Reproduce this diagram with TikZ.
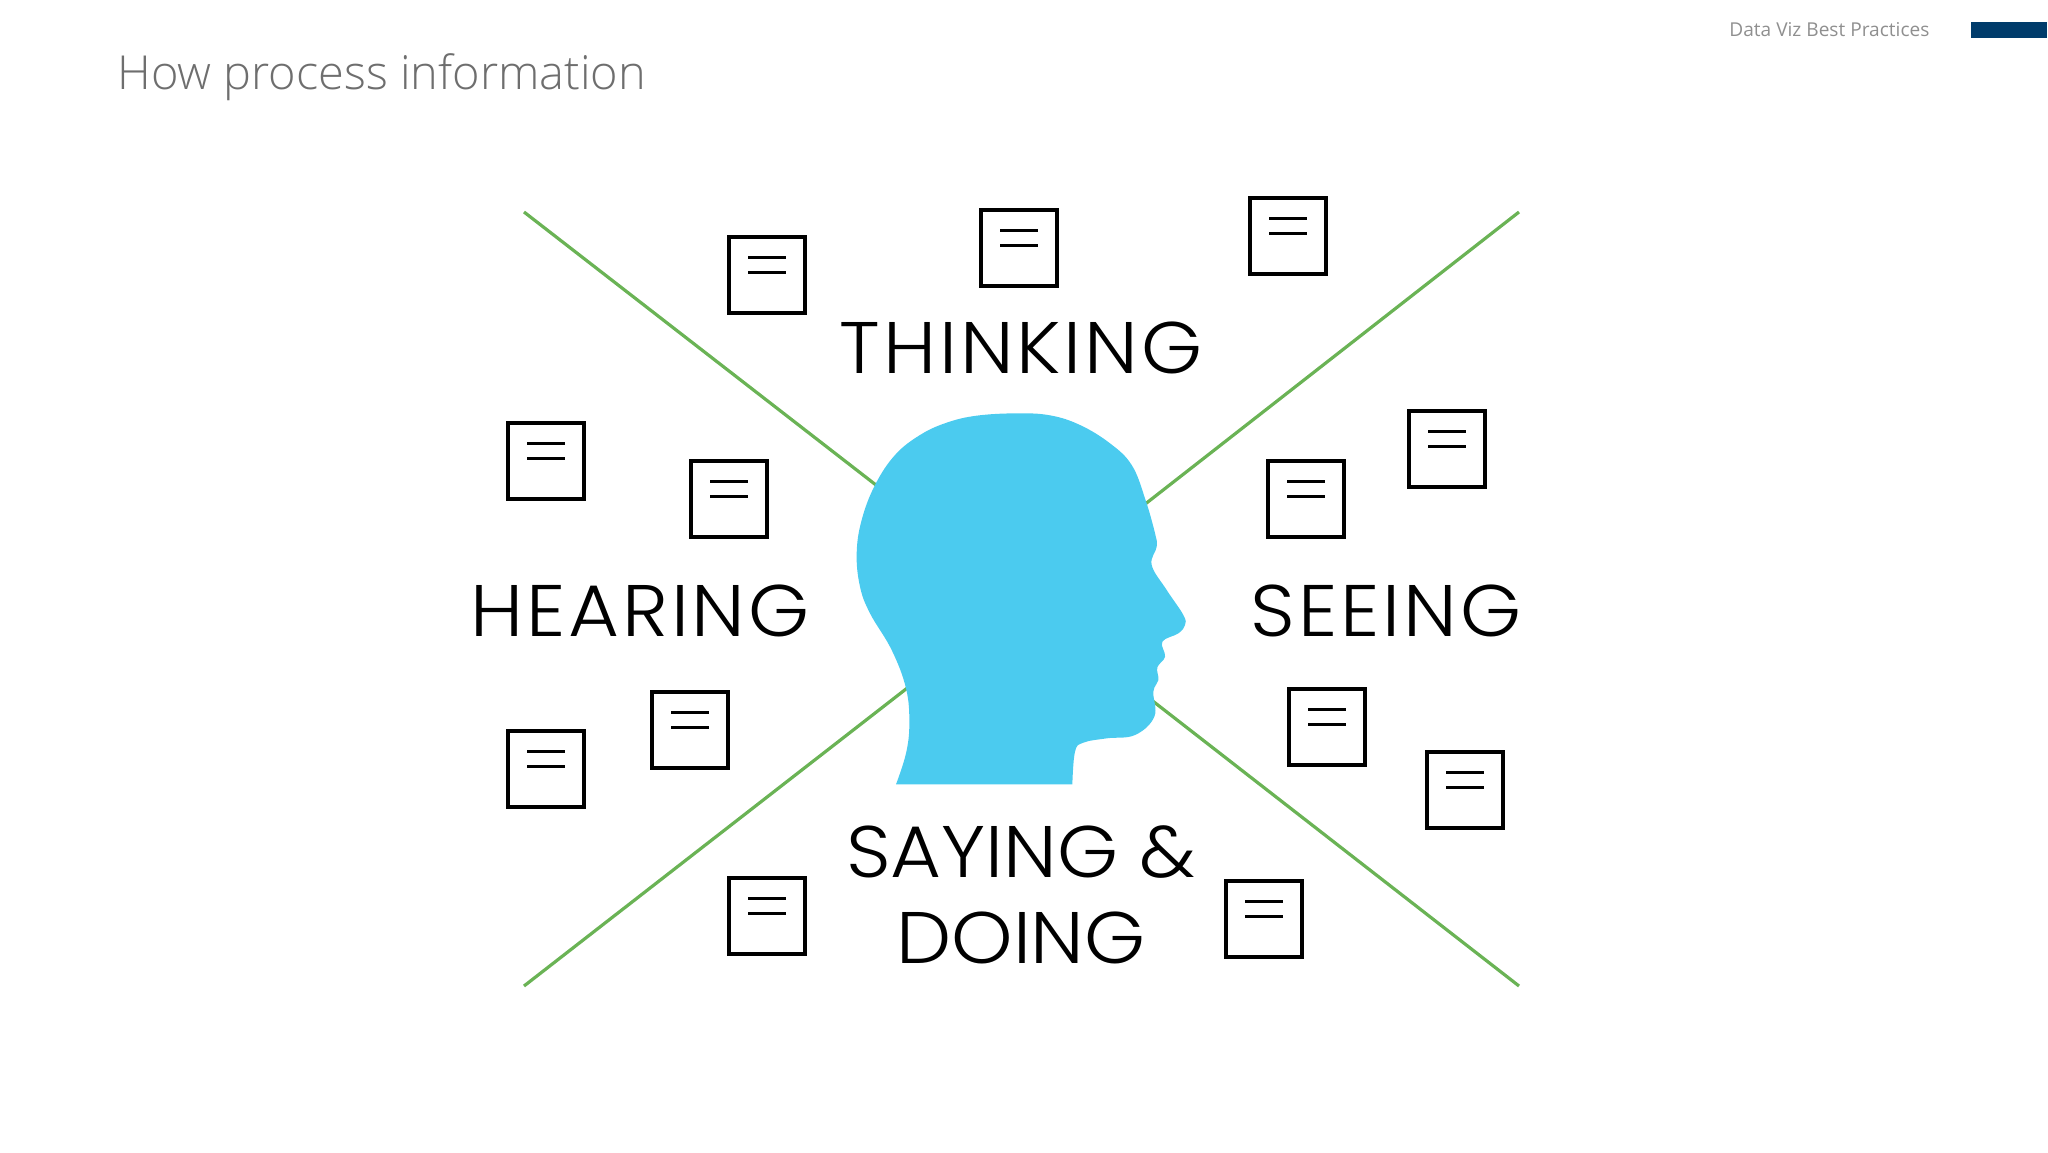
\documentclass[tikz,border=0pt]{standalone}
\usepackage{fontspec}
\setmainfont{Open Sans}
\newfontfamily\titlefont{Open Sans Light}
\newfontfamily\labelfont[FakeStretch=1.07]{Poppins Light}
\newfontfamily\widelabelfont[FakeStretch=1.07,LetterSpace=4]{Poppins Light}
\definecolor{headblue}{HTML}{4BCBEF}
\definecolor{linegreen}{HTML}{6AB355}
\definecolor{barblue}{HTML}{003C6B}
\definecolor{titlegray}{HTML}{6E6E6E}
\definecolor{notegray}{HTML}{8F8F8F}

\begin{document}
\begin{tikzpicture}[x=0.5pt, y=-0.5pt,
    note/.style = {draw, line width=1.8pt, minimum size=38pt, inner sep=0pt,
        path picture={
            \draw[line width=1.5pt] ([xshift=-9.5pt, yshift=9pt]path picture bounding box.center) -- ++(19pt,0);
            \draw[line width=1.5pt] ([xshift=-9.5pt, yshift=1.5pt]path picture bounding box.center) -- ++(19pt,0);
        }},
    sense/.style = {font=\labelfont\fontsize{36.5}{43}\selectfont, align=center, text=black},
    widesense/.style = {sense, font=\widelabelfont\fontsize{36.5}{43}\selectfont},
    ray/.style = {linegreen, line width=1.6pt}]
    \useasboundingbox (0,0) rectangle (2048,1152);

    \coordinate (tl) at (524,212);
    \coordinate (tr) at (1519,212);
    \coordinate (bl) at (524,986);
    \coordinate (br) at (1519,986);
    \coordinate (headtl) at (885,492);
    \coordinate (headtr) at (1135,512);
    \coordinate (headbl) at (915,682);
    \coordinate (headbr) at (1145,695);

    \draw[ray] (tl) -- (headtl);
    \draw[ray] (tr) -- (headtr);
    \draw[ray] (bl) -- (headbl);
    \draw[ray] (br) -- (headbr);

    % head
    \begin{scope}[shift={(820,390)}, x=0.16667pt, y=-0.16667pt]
    \fill[headblue] (228,1183) -- plot[smooth, tension=0.65] coordinates {
        (228,1183) (258,1090) (268,1000) (258,895) (215,780) (150,670) (120,590) (110,490)
        (125,390) (165,285) (225,195) (300,135) (380,98) (470,77) (590,70) (690,76) (780,105) (870,160) (935,225)
        (975,325) (1005,430) (1010,470) (995,525) (1040,600) (1090,675) (1095,705) (1075,730)
        (1027,755) (1035,800) (1012,832) (1015,870) (1000,905) (1003,980) (945,1035)
        (860,1045) (790,1058) (765,1085) (757,1183)} -- cycle;
    \end{scope}

    \node[note] (n1) at (767,275) {};
    \node[note] (n2) at (1019,248) {};
    \node[note] (n3) at (1288,236) {};
    \node[note] (n4) at (546,461) {};
    \node[note] (n5) at (729,499) {};
    \node[note] (n6) at (1447,449) {};
    \node[note] (n7) at (1306,499) {};
    \node[note] (n8) at (690,730) {};
    \node[note] (n9) at (546,769) {};
    \node[note] (n10) at (1327,727) {};
    \node[note] (n11) at (1465,790) {};
    \node[note] (n12) at (767,916) {};
    \node[note] (n13) at (1264,919) {};

    \node[widesense] (thinking) at (1021,348) {THINKING};
    \node[widesense] (hearing) at (640,611) {HEARING};
    \node[widesense] (seeing) at (1386,611) {SEEING};
    \node[sense] (saying) at (1021,895) {SAYING \&\\DOING};

    \node[anchor=base west, inner sep=0pt, text=titlegray, font=\titlefont\fontsize{23.45}{28}\selectfont] (title) at (117,89) {How process information};
    \node[anchor=base west, inner sep=0pt, text=notegray, font=\fontsize{9.55}{12}\selectfont] (header) at (1729,36) {Data Viz Best Practices};
    \node[fill=barblue, inner sep=0pt, minimum width=38pt, minimum height=8pt, anchor=north west] (bar) at (1971,22) {};
\end{tikzpicture}
\end{document}
